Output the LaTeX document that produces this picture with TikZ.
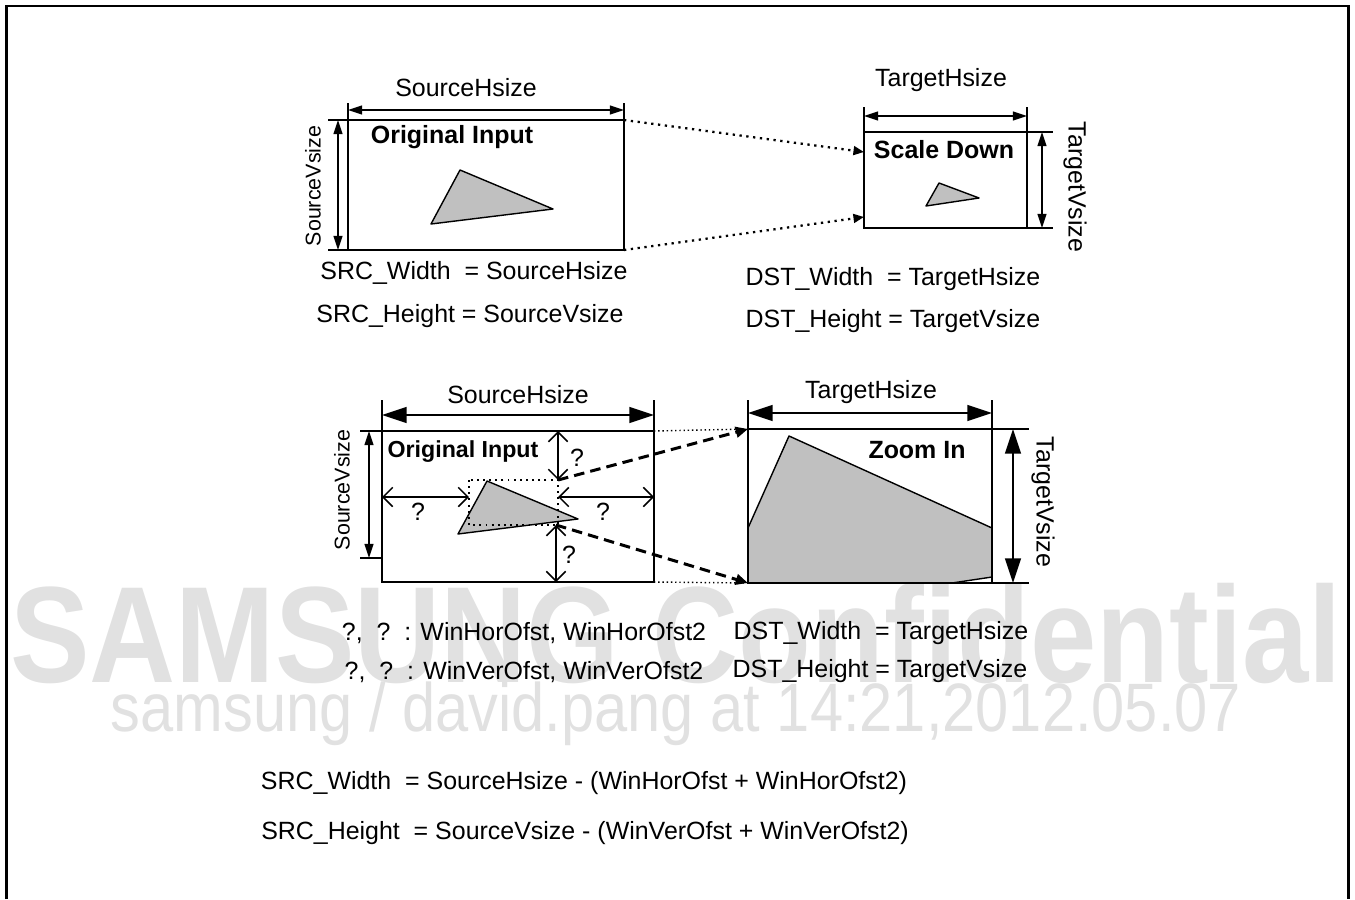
\documentclass[tikz,border=0pt]{standalone}
\usepackage{fontspec}
\setmainfont{Liberation Sans}
\usepackage{graphicx}
\usetikzlibrary{arrows.meta}
\definecolor{shapegray}{RGB}{192,192,192}
\definecolor{wmgray}{RGB}{225,225,225}
\tikzset{
  lbl/.style={inner sep=1pt, font=\fontsize{14.2}{17}\selectfont},
  smalllbl/.style={inner sep=1pt, font=\fontsize{12.2}{15}\selectfont},
  title/.style={inner sep=1pt, font=\bfseries\fontsize{14.2}{17}\selectfont},
  wmark/.style={inner sep=0pt, text=wmgray},
  frame/.style={line width=1.7pt},
  box/.style={draw, line width=1.1pt},
  tick/.style={line width=0.8pt},
  tri/.style={draw, line width=0.8pt, fill=shapegray, line join=round},
  dim/.style={line width=1pt, {Triangle[length=8pt,width=5pt]}-{Triangle[length=8pt,width=5pt]}},
  bigdim/.style={line width=1.1pt, {Triangle[length=14pt,width=9pt]}-{Triangle[length=14pt,width=9pt]}},
  offarrow/.style={line width=0.9pt, {Straight Barb[length=5.5pt,width=11pt]}-{Straight Barb[length=5.5pt,width=11pt]}},
  dotarrow/.style={line width=1.3pt, dash pattern=on 1.3pt off 2.6pt, -{Triangle[length=6pt,width=5pt]}},
  thindot/.style={line width=0.8pt, dash pattern=on 0.8pt off 1.6pt},
  window/.style={line width=1.1pt, dash pattern=on 1.1pt off 2.4pt},
  dashedarrow/.style={line width=1.7pt, dash pattern=on 6pt off 3.5pt, -{Triangle[length=7pt,width=6pt]}}
}

\begin{document}
\begin{tikzpicture}[x=0.02cm, y=-0.02cm]
  \useasboundingbox (0,0) rectangle (1355,899);
  % watermark
  \node[wmark, font=\bfseries\fontsize{78}{84}\selectfont] (wmtop) at (676,634) {\scalebox{0.87}[1]{SAMSUNG Confidential}};
  \node[wmark, font=\fontsize{39}{44}\selectfont] (wmsub) at (676,714) {\scalebox{0.87}[1]{samsung / david.pang at 14:21,2012.05.07}};
  % page frame, open at the bottom
  \draw[frame] (6.5,899) -- (6.5,6) -- (1348,6) -- (1348,899);

  % scale down: source
  \coordinate (srcNW) at (348,120);
  \coordinate (srcSE) at (624,250);
  \coordinate (srcNE) at (srcSE |- srcNW);
  \coordinate (srcSW) at (srcNW |- srcSE);
  \draw[box] (srcNW) rectangle (srcSE);
  \draw[tri] (460,170) -- (553,209) -- (431,224) -- cycle;
  \draw[tick] (srcNW) -- ++(0,-17);
  \draw[tick] (srcNE) -- ++(0,-17);
  \draw[dim] ([yshift=0.2cm]srcNW) -- ([yshift=0.2cm]srcNE);
  \draw[tick] (srcNW) -- ++(-20,0);
  \draw[tick] (srcSW) -- ++(-20,0);
  \draw[dim] ([xshift=-0.2cm]srcNW) -- ([xshift=-0.2cm]srcSW);
  \node[lbl] (srchlbl) at (466,88) {SourceHsize};
  \node[smalllbl, rotate=90] (srcvlbl) at (313,186) {SourceVsize};
  \node[title] (srcname) at (452,137) {Original Input};
  \node[lbl] (srcw) at (474,273) {SRC\_Width\ \ = SourceHsize};
  \node[lbl] (srch) at (470,316) {SRC\_Height = SourceVsize};

  % scale down: target
  \coordinate (dstNW) at (864,132);
  \coordinate (dstSE) at (1027,228);
  \coordinate (dstNE) at (dstSE |- dstNW);
  \coordinate (dstSW) at (dstNW |- dstSE);
  \coordinate (dstin1) at (864,152);
  \coordinate (dstin2) at (864,217);
  \draw[box] (dstNW) rectangle (dstSE);
  \draw[tri] (939,183) -- (979,198) -- (926,206) -- cycle;
  \draw[tick] (dstNW) -- ++(0,-25);
  \draw[tick] (dstNE) -- ++(0,-25);
  \draw[dim] ([yshift=0.32cm]dstNW) -- ([yshift=0.32cm]dstNE);
  \draw[tick] (dstNE) -- ++(26,0);
  \draw[tick] (dstSE) -- ++(26,0);
  \draw[dim] ([xshift=0.3cm]dstNE) -- ([xshift=0.3cm]dstSE);
  \draw[dotarrow] (srcNE) -- (dstin1);
  \draw[dotarrow] (srcSE) -- (dstin2);
  \node[lbl] (dsthlbl) at (941,80) {TargetHsize};
  \node[lbl, rotate=-90] (dstvlbl) at (1075,187) {TargetVsize};
  \node[title] (dstname) at (944,150) {Scale Down};
  \node[lbl] (dstw) at (893,279) {DST\_Width\ \ = TargetHsize};
  \node[lbl] (dsth) at (893,321) {DST\_Height = TargetVsize};

  % zoom in: source with crop window
  \coordinate (inNW) at (382,431);
  \coordinate (inSE) at (654,582);
  \coordinate (inNE) at (inSE |- inNW);
  \coordinate (inSW) at (inNW |- inSE);
  \coordinate (inV) at (382,558);
  \coordinate (winNW) at (469,480);
  \coordinate (winSE) at (558,525);
  \coordinate (winNE) at (winSE |- winNW);
  \coordinate (winS) at (556,525);
  \coordinate (hL) at (382,497);
  \coordinate (hLw) at (469,497);
  \coordinate (hRw) at (558,497);
  \coordinate (hR) at (654,497);
  \draw[box] (inNW) rectangle (inSE);
  \draw[tri] (487,481) -- (578,519) -- (458,534) -- cycle;
  \draw[window] (winNW) rectangle (winSE);
  \draw[tick] (inNW) -- ++(0,-31);
  \draw[tick] (inNE) -- ++(0,-31);
  \draw[bigdim] ([yshift=0.32cm]inNW) -- ([yshift=0.32cm]inNE);
  \draw[tick] (inNW) -- ++(-22,0);
  \draw[tick] (inV) -- ++(-22,0);
  \draw[dim] ([xshift=-0.26cm]inNW) -- ([xshift=-0.26cm]inV);
  \draw[offarrow] (winNE |- inNW) -- (winNE);
  \draw[offarrow] (hL) -- (hLw);
  \draw[offarrow] (hRw) -- (hR);
  \draw[offarrow] (winS) -- (winS |- inSE);
  \node[lbl] (srchlbl2) at (518,395) {SourceHsize};
  \node[smalllbl, rotate=90] (srcvlbl2) at (342,490) {SourceVsize};
  \node[title, font=\bfseries\fontsize{13.2}{16}\selectfont] (inname) at (463,452) {Original Input};
  \node[lbl] (qtop) at (577,458) {?};
  \node[lbl] (qleft) at (418,512) {?};
  \node[lbl] (qright) at (603,512) {?};
  \node[lbl] (qbot) at (569,555) {?};

  % zoom in: target
  \coordinate (zoomNW) at (748,429);
  \coordinate (zoomSE) at (992,583);
  \coordinate (zoomNE) at (zoomSE |- zoomNW);
  \coordinate (zoomSW) at (zoomNW |- zoomSE);
  \fill[shapegray] (748,528) -- (789,436) -- (992,528) -- (992,577) -- (952,583) -- (748,583) -- cycle;
  \draw[line width=0.8pt, line join=round] (748,528) -- (789,436) -- (992,528);
  \draw[line width=0.8pt] (992,577) -- (952,583);
  \draw[box] (zoomNW) rectangle (zoomSE);
  \draw[tick] (zoomNW) -- ++(0,-29);
  \draw[tick] (zoomNE) -- ++(0,-29);
  \draw[bigdim] ([yshift=0.32cm]zoomNW) -- ([yshift=0.32cm]zoomNE);
  \draw[tick] (zoomNE) -- ++(37,0);
  \draw[tick] (zoomSE) -- ++(37,0);
  \draw[bigdim] ([xshift=0.42cm]zoomNE) -- ([xshift=0.42cm]zoomSE);
  \draw[thindot] (inNE) -- (zoomNW);
  \draw[thindot] (inSE) -- (zoomSW);
  \draw[dashedarrow] (winNE) -- (zoomNW);
  \draw[dashedarrow] (winS) -- (zoomSW);
  \node[lbl] (zoomhlbl) at (871,392) {TargetHsize};
  \node[lbl, rotate=-90] (zoomvlbl) at (1043,502) {TargetVsize};
  \node[title] (zoomname) at (917,450) {Zoom In};

  % formulas
  \node[lbl] (hofs) at (524,633) {?,\ \ ?\ \ : WinHorOfst, WinHorOfst2};
  \node[lbl] (vofs) at (524,672) {?,\ \ ?\ \ : WinVerOfst, WinVerOfst2};
  \node[lbl] (zdstw) at (881,633) {DST\_Width\ \ = TargetHsize};
  \node[lbl] (zdsth) at (880,671) {DST\_Height = TargetVsize};
  \node[lbl] (srcwf) at (584,783) {SRC\_Width\ \ = SourceHsize - (WinHorOfst + WinHorOfst2)};
  \node[lbl] (srchf) at (585,833) {SRC\_Height\ \ = SourceVsize - (WinVerOfst + WinVerOfst2)};
\end{tikzpicture}
\end{document}
